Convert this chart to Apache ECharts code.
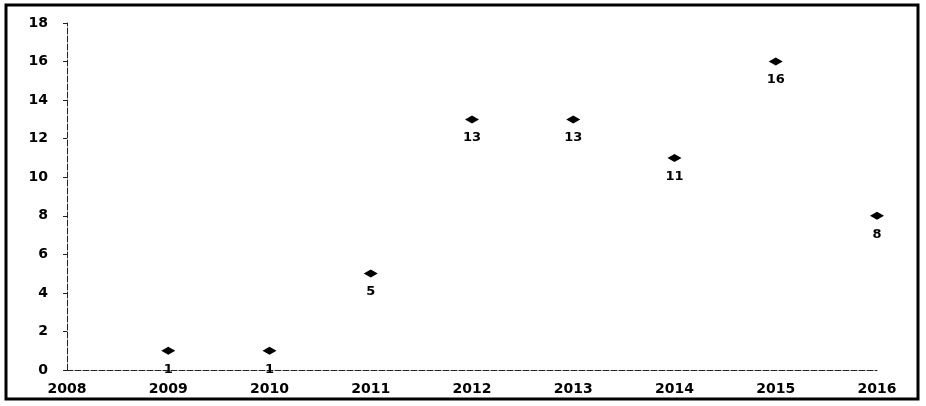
<!DOCTYPE html>
<html>
<head>
<meta charset="utf-8">
<script src="https://cdn.jsdelivr.net/npm/echarts@6/dist/echarts.min.js"></script>
<style>
  html, body { margin: 0; padding: 0; background: #fff; }
  #chart { width: 926px; height: 406px; }
</style>
</head>
<body>
<div id="chart"></div>
<script>
// Yearly counts
const years = [2009, 2010, 2011, 2012, 2013, 2014, 2015, 2016];
const counts = [1, 1, 5, 13, 13, 11, 16, 8];

const chart = echarts.init(document.getElementById('chart'), null, { renderer: 'canvas' });

const axisFont = { fontFamily: 'DejaVu Sans', fontWeight: 'bold', fontSize: 14, color: '#000' };
const dataFont = { fontFamily: 'DejaVu Sans', fontWeight: 'bold', fontSize: 13, color: '#000' };

chart.setOption({
  backgroundColor: '#fff',
  animation: false,
  graphic: [{
    type: 'rect',
    shape: { x: 6, y: 5, width: 912, height: 394 },
    style: { fill: 'none', stroke: '#000', lineWidth: 3 },
    z: 100
  }],
  grid: { left: 67, right: 49, top: 23, bottom: 36 },
  xAxis: {
    type: 'value',
    min: 2008,
    max: 2016,
    interval: 1,
    splitLine: { show: false },
    axisLine: { show: true, lineStyle: { color: '#222', type: [6, 2], width: 1 } },
    axisTick: { show: false },
    axisLabel: Object.assign({ margin: 12, formatter: v => String(v) }, axisFont)
  },
  yAxis: {
    type: 'value',
    min: 0,
    max: 18,
    interval: 2,
    splitLine: { show: false },
    axisLine: { show: true, lineStyle: { color: '#222', type: [6, 2], width: 1 } },
    axisTick: { show: true, inside: false, length: 4, lineStyle: { color: '#222' } },
    axisLabel: Object.assign({ margin: 19 }, axisFont)
  },
  series: [{
    type: 'scatter',
    data: years.map((y, i) => [y, counts[i]]),
    symbol: 'diamond',
    symbolSize: [14, 8],
    itemStyle: { color: '#000', opacity: 1 },
    label: Object.assign({
      show: true,
      position: 'bottom',
      distance: 8,
      formatter: p => String(p.value[1])
    }, dataFont)
  }]
});
</script>
</body>
</html>
